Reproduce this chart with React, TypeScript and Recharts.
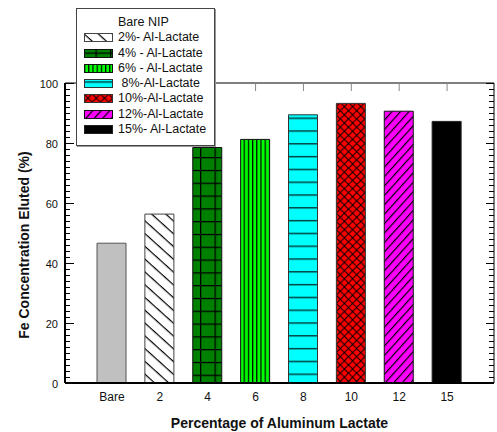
import React from "react";
import { BarChart, Bar, Cell, XAxis, YAxis, CartesianGrid } from "recharts";

const categories = ["Bare", "2", "4", "6", "8", "10", "12", "15"];
const elutedPercent = [46.6, 56.3, 78.5, 81.2, 89.4, 93.2, 90.6, 87.2];
const legendLabels = [
  "Bare NIP",
  "2%- Al-Lactate",
  "4% - Al-Lactate",
  "6% - Al-Lactate",
  " 8%-Al-Lactate",
  "10%-Al-Lactate",
  "12%-Al-Lactate",
  "15%- Al-Lactate",
];
const yTicks = Array.from({ length: 51 }, (_, i) => i * 2);
const xTitle = "Percentage of Aluminum Lactate";
const yTitle = "Fe Concentration Eluted (%)";

const data = categories.map((c, i) => ({ category: c, value: elutedPercent[i] }));

const fills = ["#c0c0c0", "url(#p2)", "url(#p4)", "url(#p6)", "url(#p8)", "url(#p10)", "url(#p12)", "#000000"];
const strokes = ["#555", "#444", "#111", "#111", "#333", "#333", "#111", "#222"];

const FONT = "'Liberation Sans', Arial, sans-serif";
const TICK_GAP = 7;
const X_GAP = 8;
// plot box size (chart 497x432 minus margins / axis sizes)
const PLOT_W = 429;
const PLOT_H = 300;

function LeftTick(props: any) {
  const x = Number(props.x);
  const y = Number(props.y) + 0.5;
  const v = Number(props.payload.value);
  const major = v % 20 === 0;
  const ax = x + TICK_GAP;
  const rx = ax + PLOT_W;
  // inward ticks on both the left and the right edge of the box
  const d = `M${ax},${y}H${ax + (major ? 9 : 5)}M${rx},${y}H${rx - (major ? 8 : 5)}`;
  return (
    <g>
      <path d={d} stroke="#000" strokeWidth={1} fill="none" />
      {major && (
        <text x={x} y={y} dy={4} textAnchor="end" fontSize={11} fontFamily={FONT} fill="#111">
          {v}
        </text>
      )}
    </g>
  );
}

function BottomTick(props: any) {
  const x = Number(props.x);
  const y = Number(props.y);
  const top = y - X_GAP - PLOT_H;
  return (
    <g>
      <line x1={x} x2={x} y1={top} y2={top + 8} stroke="#888" strokeWidth={1} />
      <text x={x} y={y} dy={10} textAnchor="middle" fontSize={12} fontFamily={FONT} fill="#111">
        {props.payload.value}
      </text>
    </g>
  );
}

// hatch patterns live in their own svg; url(#id) works across the page
function Patterns() {
  return (
    <svg width={0} height={0} style={{ position: "absolute", left: 0, top: 0 }}>
      <defs>
        <pattern id="p2" width="9.5" height="9.5" patternUnits="userSpaceOnUse" patternTransform="rotate(42)">
          <rect width="9.5" height="9.5" fill="#fff" />
          <line x1="0" y1="0.6" x2="9.5" y2="0.6" stroke="#000" strokeWidth="1.2" />
        </pattern>
        <pattern id="p4" x="200" y="246.7" width="14.5" height="12.8" patternUnits="userSpaceOnUse">
          <rect width="14.5" height="12.8" fill="#008000" />
          <line x1="0.6" y1="0" x2="0.6" y2="12.8" stroke="#000" strokeWidth="1.3" />
          <line x1="0" y1="0.6" x2="14.5" y2="0.6" stroke="#000" strokeWidth="1.3" />
        </pattern>
        <pattern id="p6" width="4.2" height="10" patternUnits="userSpaceOnUse">
          <rect width="4.2" height="10" fill="#00ff00" />
          <line x1="0.6" y1="0" x2="0.6" y2="10" stroke="#000" strokeWidth="1.2" />
        </pattern>
        <pattern id="p8" x="0" y="117.5" width="10" height="12.8" patternUnits="userSpaceOnUse">
          <rect width="10" height="12.8" fill="#00ffff" />
          <line x1="0" y1="0.7" x2="10" y2="0.7" stroke="#003c3c" strokeWidth="1.5" />
        </pattern>
        <pattern id="p10" width="8.2" height="8.2" patternUnits="userSpaceOnUse">
          <rect width="8.2" height="8.2" fill="#ff0000" />
          <path d="M0,0 L8.2,8.2 M8.2,0 L0,8.2" stroke="#000" strokeWidth="1" />
        </pattern>
        <pattern id="p12" width="6.3" height="6.3" patternUnits="userSpaceOnUse" patternTransform="rotate(-48)">
          <rect width="6.3" height="6.3" fill="#ff00ff" />
          <line x1="0" y1="0.6" x2="6.3" y2="0.6" stroke="#000" strokeWidth="1.2" />
        </pattern>
      </defs>
    </svg>
  );
}

function LegendBox() {
  return (
    <div
      style={{
        position: "absolute",
        left: 76,
        top: 8,
        width: 137,
        height: 130,
        background: "#fff",
        border: "1px solid #444",
        boxShadow: "1px 1px 0 #999",
        fontFamily: FONT,
        fontSize: 12.5,
        color: "#111",
        paddingTop: 6,
        boxSizing: "content-box",
      }}
    >
      {legendLabels.map((label, i) => (
        <div key={label} style={{ height: 15.3, position: "relative" }}>
          {i > 0 && (
            <svg width={29} height={10} style={{ position: "absolute", left: 7, top: 3 }}>
              <rect x={0.5} y={0.5} width={28} height={8} fill={fills[i]} stroke={strokes[i]} />
            </svg>
          )}
          <span style={{ position: "absolute", left: 41, top: 0, whiteSpace: "pre", lineHeight: "15px" }}>{label}</span>
        </div>
      ))}
    </div>
  );
}

const titleStyle: React.CSSProperties = {
  position: "absolute",
  fontFamily: FONT,
  fontSize: 14,
  fontWeight: "bold",
  color: "#111",
  whiteSpace: "nowrap",
  lineHeight: "16px",
};

export default function App() {
  return (
    <div style={{ position: "absolute", left: 0, top: 0, width: 497, height: 432, background: "#fff" }}>
      <Patterns />
      <BarChart width={497} height={432} data={data} margin={{ top: 83, right: 3, left: 0, bottom: 0 }}>
        {/* frame: top and right edges of the plot box */}
        <CartesianGrid
          stroke="#000"
          horizontalCoordinatesGenerator={({ offset }: any) => [offset.top]}
          verticalCoordinatesGenerator={({ offset }: any) => [offset.left + offset.width]}
        />
        <XAxis
          dataKey="category"
          height={49}
          padding={{ left: 23, right: 23 }}
          tickLine={false}
          tickSize={0}
          tickMargin={X_GAP}
          axisLine={{ stroke: "#000", strokeWidth: 2 }}
          tick={(p: any) => <BottomTick {...p} />}
          interval={0}
        />
        <YAxis
          domain={[0, 100]}
          ticks={yTicks}
          interval={0}
          width={65}
          tickSize={0}
          tickMargin={TICK_GAP}
          tickLine={false}
          tick={(p: any) => <LeftTick {...p} />}
          axisLine={{ stroke: "#000", strokeWidth: 2 }}
        />
        <Bar dataKey="value" barSize={29} isAnimationActive={false}>
          {data.map((d, i) => (
            <Cell key={d.category} fill={fills[i]} stroke={strokes[i]} strokeWidth={1} />
          ))}
        </Bar>
      </BarChart>
      <div style={{ ...titleStyle, left: 279.5, top: 423, transform: "translate(-50%, -50%)" }}>{xTitle}</div>
      <div style={{ ...titleStyle, left: 24, top: 245, transform: "translate(-50%, -50%) rotate(-90deg)" }}>{yTitle}</div>
      <LegendBox />
    </div>
  );
}
